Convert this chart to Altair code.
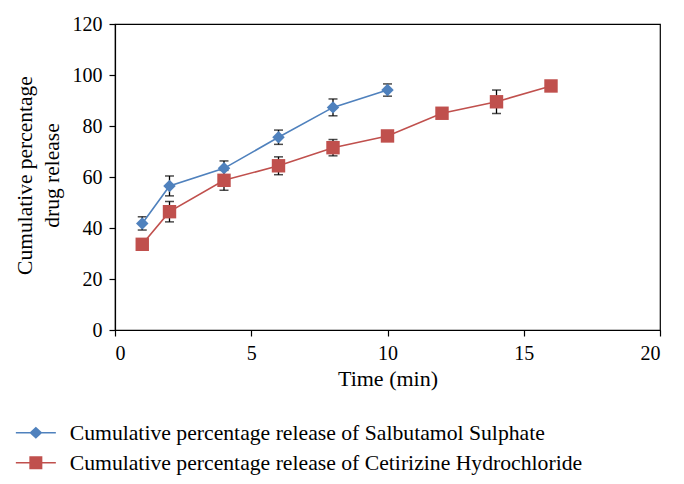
import altair as alt
import pandas as pd

# ---- data ----
series_names = [
    "Cumulative percentage release of Salbutamol Sulphate",
    "Cumulative percentage release of Cetirizine Hydrochloride",
]
salb_time = [1, 2, 4, 6, 8, 10]
salb_value = [41.8, 56.5, 63.4, 75.6, 87.3, 94.1]
salb_err = [2.6, 3.9, 2.9, 2.8, 3.3, 2.4]

cet_time = [1, 2, 4, 6, 8, 10, 12, 14, 16]
cet_value = [33.6, 46.4, 58.7, 64.4, 71.5, 76.1, 85.0, 89.5, 95.7]
cet_err = [1.2, 4.0, 3.9, 3.5, 3.2, 1.5, 1.2, 4.6, 1.0]

x_ticks = [0, 5, 10, 15, 20]
y_ticks = [0, 20, 40, 60, 80, 100, 120]
colors = ["#4F81BD", "#C0504D"]

rows = []
for t, v, e in zip(salb_time, salb_value, salb_err):
    rows.append({"time": t, "value": v, "lo": v - e, "hi": v + e, "series": series_names[0]})
for t, v, e in zip(cet_time, cet_value, cet_err):
    rows.append({"time": t, "value": v, "lo": v - e, "hi": v + e, "series": series_names[1]})
df = pd.DataFrame(rows)

FONT = "Liberation Serif"

x_enc = alt.X(
    "time:Q",
    scale=alt.Scale(domain=[0, 20], nice=False),
    axis=alt.Axis(
        values=x_ticks, title="Time (min)", grid=False,
        labelFont=FONT, labelFontSize=20, labelColor="black", labelPadding=7,
        tickSize=6, tickColor="black", domainColor="black", domainWidth=1.2, tickWidth=1.2,
        titleFont=FONT, titleFontSize=22, titleFontWeight="normal", titleColor="black",
        titleBaseline="alphabetic", titleY=55, titleX=272.5, titleAlign="center",
    ),
)
y_scale = alt.Scale(domain=[0, 120], nice=False)
y_enc = alt.Y(
    "value:Q",
    scale=y_scale,
    axis=alt.Axis(
        values=y_ticks, title=["Cumulative percentage", "drug release"], grid=False,
        labelFont=FONT, labelFontSize=20, labelColor="black", labelPadding=7,
        tickSize=6, tickColor="black", domainColor="black", domainWidth=1.2, tickWidth=1.2,
        titleFont=FONT, titleFontSize=21.5, titleFontWeight="normal", titleColor="black",
        titleAngle=270, titleBaseline="alphabetic", titleAlign="center",
        titleX=-84, titleY=151, titleLineHeight=27,
    ),
)

base = alt.Chart(df)

err_rule = base.mark_rule(color="black", strokeWidth=1.3).encode(
    x=x_enc, y=alt.Y("lo:Q", scale=y_scale), y2="hi:Q"
)
cap_lo = base.mark_tick(color="black", orient="horizontal", size=9, thickness=1.5).encode(
    x=x_enc, y=alt.Y("lo:Q", scale=y_scale)
)
cap_hi = base.mark_tick(color="black", orient="horizontal", size=9, thickness=1.5).encode(
    x=x_enc, y=alt.Y("hi:Q", scale=y_scale)
)

line_salb = base.transform_filter(alt.datum.series == series_names[0]).mark_line(
    color=colors[0], strokeWidth=1.6).encode(x=x_enc, y=y_enc)
line_cet = base.transform_filter(alt.datum.series == series_names[1]).mark_line(
    color=colors[1], strokeWidth=1.6).encode(x=x_enc, y=y_enc)

pt_salb = base.transform_filter(alt.datum.series == series_names[0]).mark_point(
    shape="diamond", filled=True, size=155, color=colors[0], opacity=1).encode(x=x_enc, y=y_enc)
pt_cet = base.transform_filter(alt.datum.series == series_names[1]).mark_point(
    shape="square", filled=True, size=180, color=colors[1], opacity=1).encode(x=x_enc, y=y_enc)

legend_paths = [
    "M-2,-0.075H2V0.075H-2Z M0,-0.6L0.65,0L0,0.6L-0.65,0Z",
    "M-2,-0.075H2V0.075H-2Z M-0.65,-0.65H0.65V0.65H-0.65Z",
]
leg = alt.Legend(
    orient="none", legendX=-90, legendY=398, title=None, direction="vertical",
    labelFont=FONT, labelFontSize=21.7, labelColor="black", labelLimit=0,
    symbolSize=400, symbolStrokeWidth=0, symbolOpacity=1,
    rowPadding=7, labelOffset=23, padding=0,
)
legend_layer = base.transform_filter("false").mark_point(filled=True, opacity=1).encode(
    x=x_enc, y=y_enc,
    color=alt.Color("series:N", scale=alt.Scale(domain=series_names, range=colors), legend=leg),
    shape=alt.Shape("series:N", scale=alt.Scale(domain=series_names, range=legend_paths), legend=leg),
)

chart = alt.layer(
    err_rule, cap_lo, cap_hi, line_salb, line_cet, pt_salb, pt_cet, legend_layer
).properties(
    width=545, height=306,
    autosize=alt.AutoSizeParams(type="none"),
    padding={"left": 107, "top": 16, "right": 8, "bottom": 146},
    background="white",
).configure_view(
    stroke="black", strokeWidth=1.2
)

chart.save("out.html", embed_options={"renderer": "svg", "actions": False})
